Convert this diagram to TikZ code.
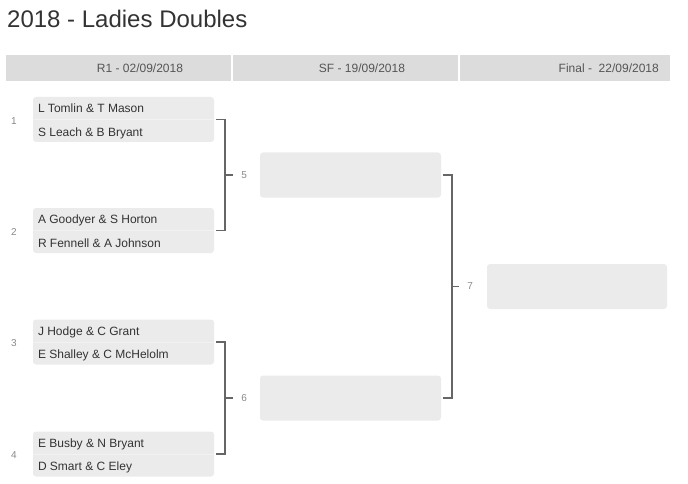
\documentclass[tikz,border=0pt]{standalone}
\usepackage{fontspec}
\setmainfont{Liberation Sans}
\usepackage{tikz}
\usetikzlibrary{positioning, calc}

\definecolor{boxgrey}{HTML}{EBEBEB}
\definecolor{headgrey}{HTML}{DCDCDC}
\definecolor{linegrey}{HTML}{666666}
\definecolor{textdark}{HTML}{333333}
\definecolor{headtext}{HTML}{555555}
\definecolor{numgrey}{HTML}{888888}

\begin{document}
\begin{tikzpicture}[x=1pt, y=-1pt,
  match/.style={fill=boxgrey, rounded corners=3pt, minimum width=181pt, minimum height=45pt, inner sep=0pt},
  team/.style={font=\fontsize{12}{14}\selectfont, text=textdark, anchor=base west, inner sep=0pt},
  headtxt/.style={font=\fontsize{12}{14}\selectfont, text=headtext, inner sep=0pt},
  num/.style={font=\fontsize{10}{12}\selectfont, text=numgrey, inner sep=0pt},
  bracket/.style={draw=linegrey, line width=1.7pt},
  rowline/.style={draw=white!35!boxgrey, line width=0.7pt}]
  \useasboundingbox (0,0) rectangle (688,484);

  % title and round header
  \node[font=\fontsize{24}{28}\selectfont, text=textdark, anchor=base west, inner sep=0pt] (title) at (7,28) {2018 - Ladies Doubles};
  \node[fill=headgrey, minimum width=664pt, minimum height=26pt, inner sep=0pt, anchor=north west] (head) at (6,55) {};
  \draw[white, line width=1.5pt] (232,55) -- (232,81);
  \draw[white, line width=1.5pt] (459,55) -- (459,81);
  \node[headtxt, anchor=base] (r1) at (140,73) {R1 - 02/09/2018};
  \node[headtxt, anchor=base] (sf) at (362,73) {SF - 19/09/2018};
  \node[headtxt, anchor=base east] (fin) at (659,73) {Final -\ \ 22/09/2018};

  % first round
  \node[match] (m1) at (123.5,119.5) {};
  \node[match] (m2) at (123.5,230.5) {};
  \node[match] (m3) at (123.5,342) {};
  \node[match] (m4) at (123.5,454) {};
  \draw[rowline] (m1.west) -- (m1.east);
  \draw[rowline] (m2.west) -- (m2.east);
  \draw[rowline] (m3.west) -- (m3.east);
  \draw[rowline] (m4.west) -- (m4.east);

  \node[team] (t1a) at ([xshift=5pt, yshift=6.8pt]m1.west) {L Tomlin \& T Mason};
  \node[team] (t1b) at ([xshift=5pt, yshift=-16.5pt]m1.west) {S Leach \& B Bryant};
  \node[team] (t2a) at ([xshift=5pt, yshift=6.8pt]m2.west) {A Goodyer \& S Horton};
  \node[team] (t2b) at ([xshift=5pt, yshift=-16.5pt]m2.west) {R Fennell \& A Johnson};
  \node[team] (t3a) at ([xshift=5pt, yshift=6.8pt]m3.west) {J Hodge \& C Grant};
  \node[team] (t3b) at ([xshift=5pt, yshift=-16.5pt]m3.west) {E Shalley \& C McHelolm};
  \node[team] (t4a) at ([xshift=5pt, yshift=6.8pt]m4.west) {E Busby \& N Bryant};
  \node[team] (t4b) at ([xshift=5pt, yshift=-16.5pt]m4.west) {D Smart \& C Eley};

  \node[num] (n1) at (14,121) {1};
  \node[num] (n2) at (14,232) {2};
  \node[num] (n3) at (14,343.5) {3};
  \node[num] (n4) at (14,455.5) {4};

  % semi finals and final
  \node[match] (m5) at (350.5,175) {};
  \node[match] (m6) at (350.5,398) {};
  \node[match, minimum width=180pt] (m7) at (577,286.5) {};

  % brackets
  \coordinate (j5) at ($(m1.east)!0.5!(m2.east)+(11,0)$);
  \coordinate (j6) at ($(m3.east)!0.5!(m4.east)+(11,0)$);
  \coordinate (j7) at ($(m5.east)!0.5!(m6.east)+(11,0)$);
  \draw[bracket] ([xshift=2pt]m1.east) -| (j5) |- ([xshift=2pt]m2.east);
  \draw[bracket] ([xshift=2pt]m3.east) -| (j6) |- ([xshift=2pt]m4.east);
  \draw[bracket] ([xshift=2pt]m5.east) -| (j7) |- ([xshift=2pt]m6.east);
  \draw[bracket] (j5) -- ++(8,0);
  \draw[bracket] (j6) -- ++(8,0);
  \draw[bracket] (j7) -- ++(7,0);
  \node[num] (n5) at ([xshift=19pt]j5) {5};
  \node[num] (n6) at ([xshift=19pt]j6) {6};
  \node[num] (n7) at ([xshift=18pt]j7) {7};
\end{tikzpicture}
\end{document}
